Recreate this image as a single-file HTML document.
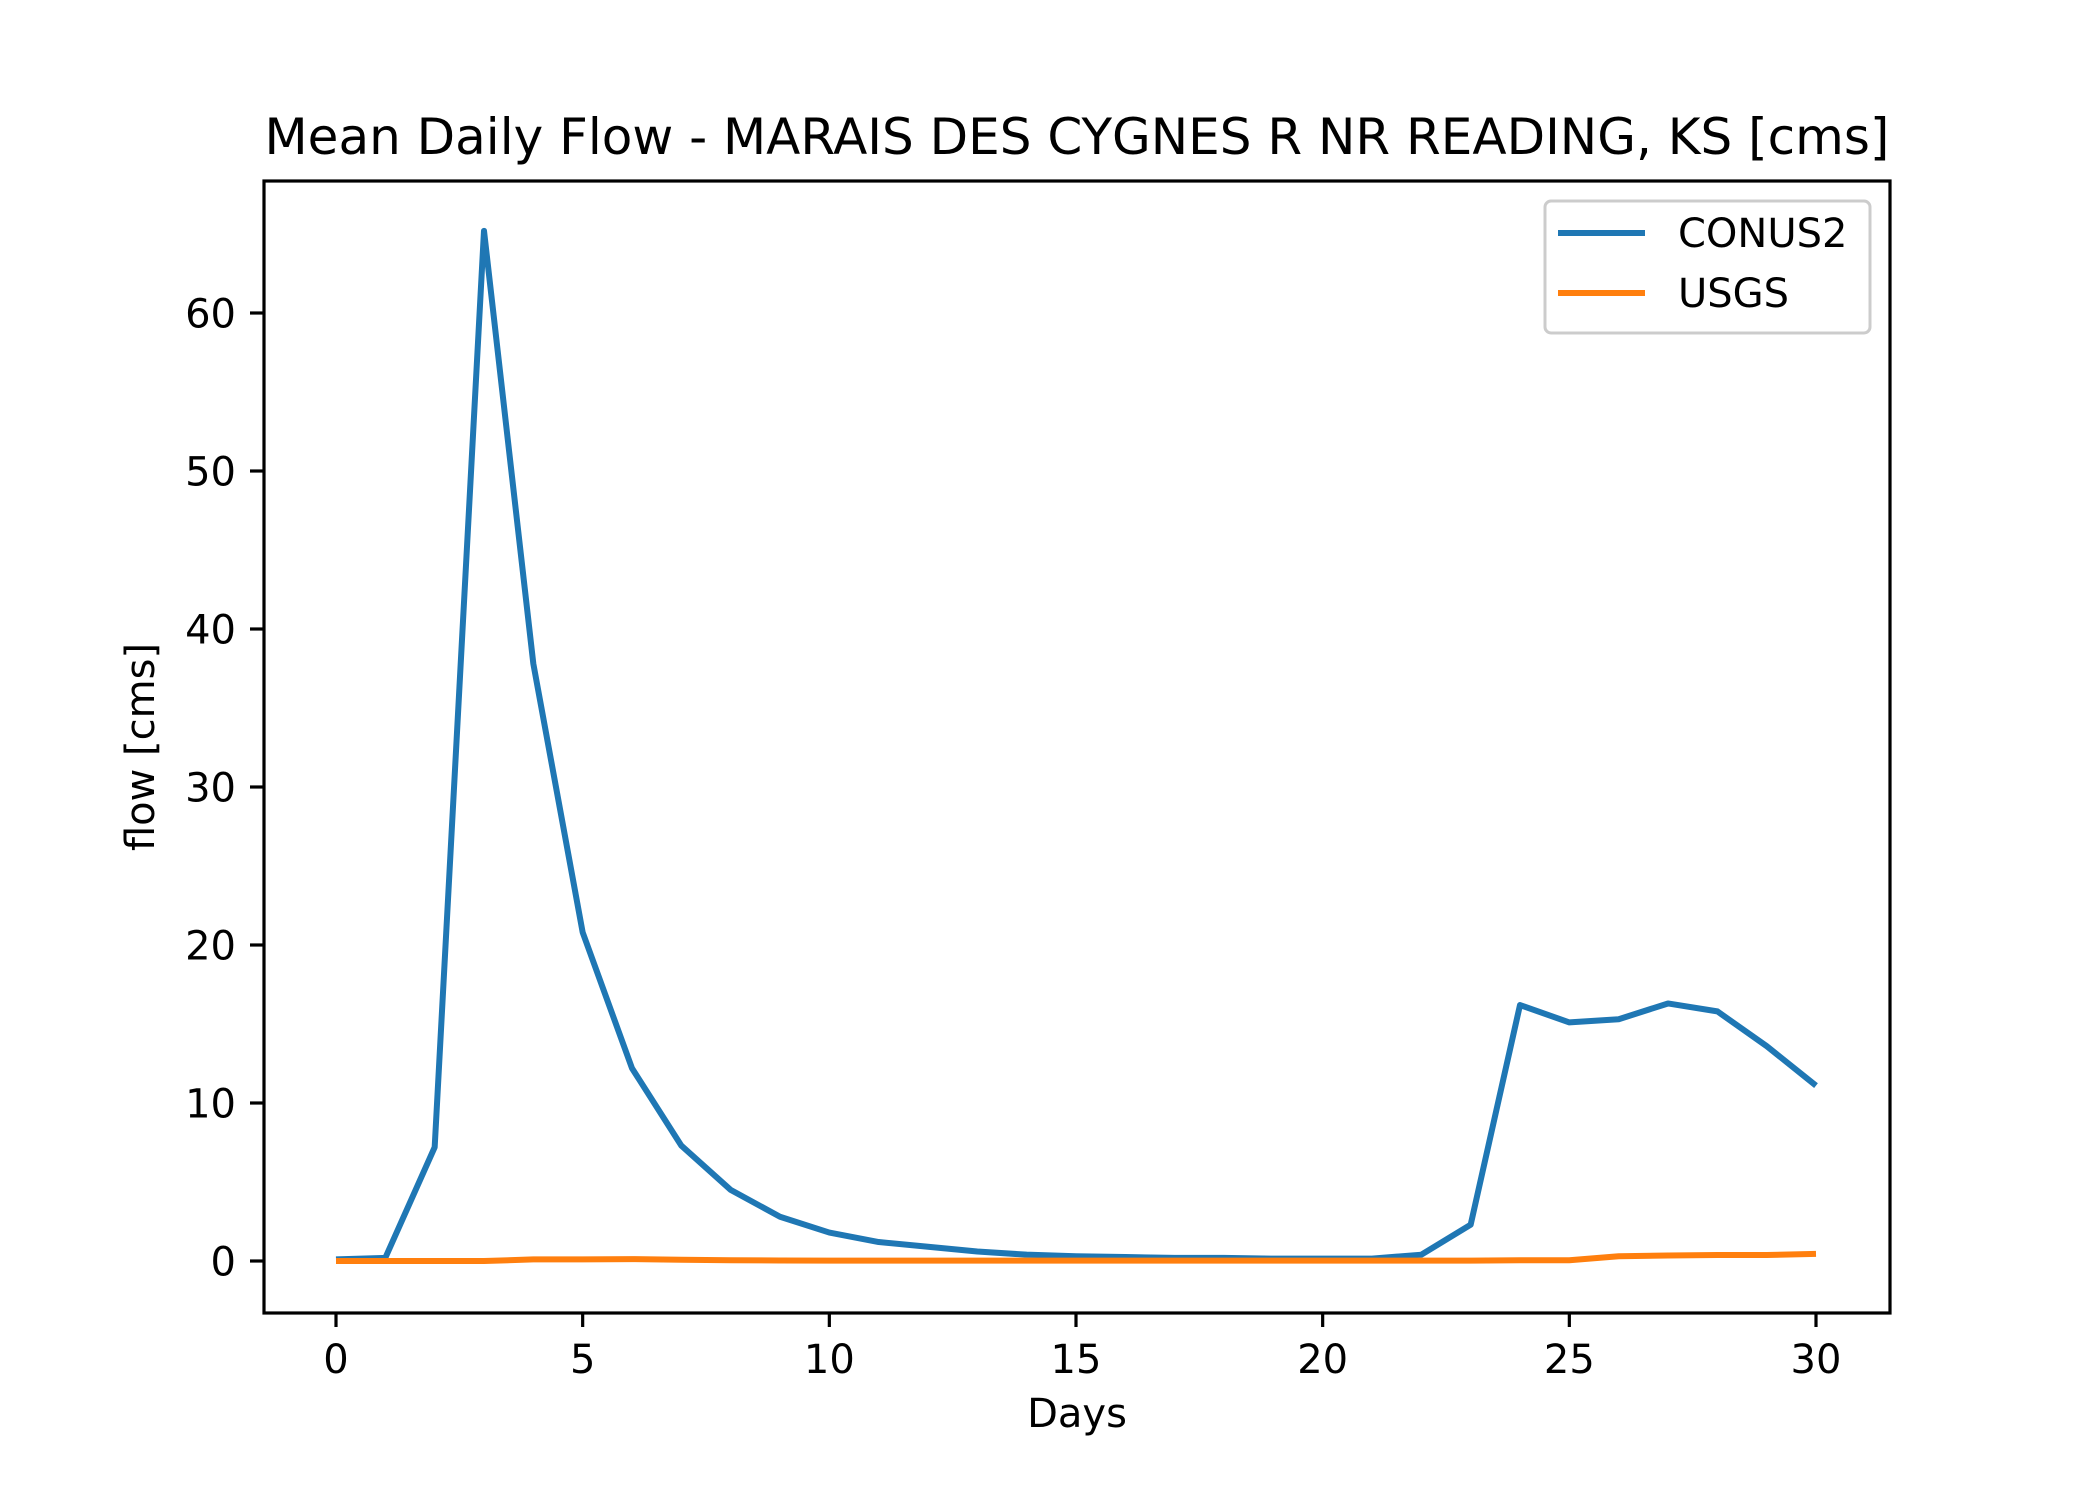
<!DOCTYPE html>
<html><head><meta charset="utf-8"><style>
html,body{margin:0;padding:0;background:#fff}
svg{display:block;font-family:"DejaVu Sans","Liberation Sans",sans-serif}
</style></head><body>
<svg id="chart" width="2100" height="1500" viewBox="0 0 2100 1500" xmlns="http://www.w3.org/2000/svg">
<rect width="2100" height="1500" fill="#fff"/>
<text x="1077" y="154" font-size="50" text-anchor="middle">Mean Daily Flow - MARAIS DES CYGNES R NR READING, KS [cms]</text>
<g id="ticks"></g>
<g id="series"></g>
<rect x="264" y="181" width="1626" height="1132" fill="none" stroke="#000" stroke-width="3.2"/>
<text x="1077" y="1427" font-size="40" text-anchor="middle">Days</text>
<text transform="translate(154,747) rotate(-90)" font-size="40" text-anchor="middle">flow [cms]</text>
<g>
<rect x="1545" y="201" width="325" height="132" rx="6" fill="#fff" fill-opacity="0.8" stroke="#ccc" stroke-width="3"/>
<line x1="1558" y1="233" x2="1645" y2="233" stroke="#1f77b4" stroke-width="6"/>
<text x="1678" y="247" font-size="40">CONUS2</text>
<line x1="1558" y1="293" x2="1645" y2="293" stroke="#ff7f0e" stroke-width="6"/>
<text x="1678" y="307" font-size="40">USGS</text>
</g>
</svg>
<script>
const days = Array.from({length:31},(_, i)=>i);
const conus2 = [0.1,0.2,7.2,65.2,37.8,20.8,12.2,7.3,4.5,2.8,1.8,1.2,0.9,0.6,0.4,0.3,0.25,0.2,0.2,0.15,0.15,0.15,0.4,2.3,16.2,15.1,15.3,16.3,15.8,13.6,11.1];
const usgs = [0.0,0.0,0.0,0.0,0.1,0.1,0.12,0.08,0.05,0.03,0.02,0.02,0.02,0.02,0.02,0.02,0.02,0.02,0.02,0.02,0.02,0.02,0.02,0.02,0.05,0.05,0.3,0.35,0.38,0.38,0.45];
const xTicks = [0,5,10,15,20,25,30];
const yTicks = [0,10,20,30,40,50,60];
const NS='http://www.w3.org/2000/svg';
function X(v){return 336 + v*(1816-336)/30;}
function Y(v){return 1261 - v*(1261-313)/60;}
const tg=document.getElementById('ticks');
xTicks.forEach(t=>{
  const l=document.createElementNS(NS,'line');
  l.setAttribute('x1',X(t));l.setAttribute('x2',X(t));l.setAttribute('y1',1313);l.setAttribute('y2',1327);
  l.setAttribute('stroke','#000');l.setAttribute('stroke-width','3.2');
  
  
  tg.appendChild(l);
  const tx=document.createElementNS(NS,'text');
  tx.setAttribute('x',X(t));tx.setAttribute('y',1373);tx.setAttribute('font-size','40');tx.setAttribute('text-anchor','middle');
  tx.textContent=t;
  
  
  tg.appendChild(tx);
});
yTicks.forEach(t=>{
  const l=document.createElementNS(NS,'line');
  l.setAttribute('x1',250);l.setAttribute('x2',264);l.setAttribute('y1',Y(t));l.setAttribute('y2',Y(t));
  l.setAttribute('stroke','#000');l.setAttribute('stroke-width','3.2');
  
  
  tg.appendChild(l);
  const tx=document.createElementNS(NS,'text');
  tx.setAttribute('x',236);tx.setAttribute('y',Y(t)+14.5);tx.setAttribute('font-size','40');tx.setAttribute('text-anchor','end');
  tx.textContent=t;
  
  
  tg.appendChild(tx);
});
const sg=document.getElementById('series');
function line(vals,color,name){
  const p=document.createElementNS(NS,'polyline');
  p.setAttribute('points',vals.map((v,i)=>X(days[i])+','+Y(v)).join(' '));
  p.setAttribute('fill','none');p.setAttribute('stroke',color);p.setAttribute('stroke-width','6');
  p.setAttribute('stroke-linejoin','round');
  
  
  sg.appendChild(p);
}
line(conus2,'#1f77b4','conus2-line');
line(usgs,'#ff7f0e','usgs-line');
</script>
</body></html>
